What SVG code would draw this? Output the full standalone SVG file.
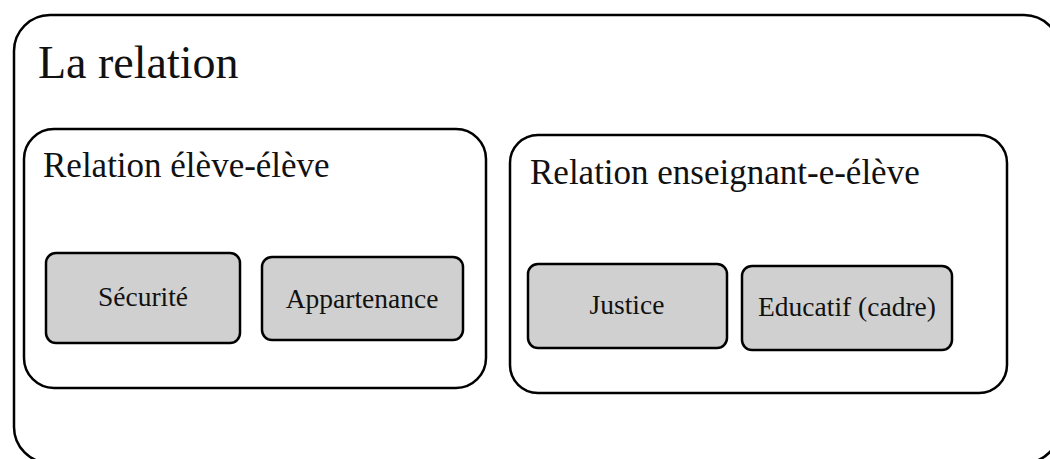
<svg xmlns="http://www.w3.org/2000/svg" width="1050" height="459" viewBox="0 0 1050 459">
<style>
.frame{fill:#ffffff;stroke:#000000;stroke-width:2.5}
.item{fill:#d0d0d0;stroke:#000000;stroke-width:2.5}
text{font-family:"Liberation Serif","DejaVu Serif",serif;fill:#111111}
.title{font-size:46px}
.sub{font-size:35px}
.lbl{font-size:27.5px;text-anchor:middle}
</style>
<g id="outer">
<rect class="frame" x="14" y="15" width="1046" height="448" rx="36" ry="36"/>
<text class="title" x="38" y="78">La relation</text>
</g>
<g id="eleve-eleve">
<rect class="frame" x="24" y="129" width="462" height="259" rx="30" ry="30"/>
<text class="sub" x="43" y="177">Relation élève-élève</text>
</g>
<g id="enseignant-eleve">
<rect class="frame" x="510" y="135" width="497" height="258" rx="28" ry="28"/>
<text class="sub" x="530" y="184">Relation enseignant-e-élève</text>
</g>
<g id="securite">
<rect class="item" x="46" y="253" width="194" height="90" rx="10" ry="10"/>
<text class="lbl" x="143" y="306">Sécurité</text>
</g>
<g id="appartenance">
<rect class="item" x="262" y="257" width="201" height="83" rx="10" ry="10"/>
<text class="lbl" x="362" y="308">Appartenance</text>
</g>
<g id="justice">
<rect class="item" x="528" y="264" width="199" height="84" rx="10" ry="10"/>
<text class="lbl" x="627" y="314">Justice</text>
</g>
<g id="educatif">
<rect class="item" x="742" y="266" width="210" height="84" rx="10" ry="10"/>
<text class="lbl" x="847" y="316">Educatif (cadre)</text>
</g>
<g id="connectors"></g>
</svg>
